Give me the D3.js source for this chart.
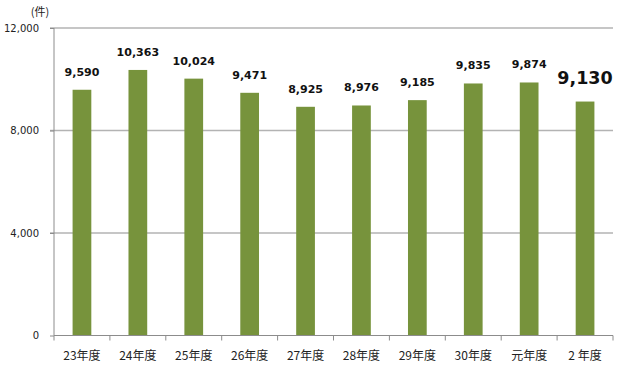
<!DOCTYPE html>
<html><head><meta charset="utf-8">
<script src="https://cdn.jsdelivr.net/npm/d3@7"></script>
<style>body{margin:0;background:#fff}svg{display:block}</style>
</head><body>
<svg id="c" width="631" height="380"></svg>
<script>
const categories = ["23年度","24年度","25年度","26年度","27年度","28年度","29年度","30年度","元年度","2 年度"];
const values = [9590,10363,10024,9471,8925,8976,9185,9835,9874,9130];
const yTicks = [0,4000,8000,12000];
const unitLabel = "(件)";

const svg = d3.select("#c");
const m = {left:54, right:613, top:28, bottom:335.5};
const x = d3.scaleBand().domain(categories).range([m.left,m.right]).paddingInner(0.665).paddingOuter(0.3325);
const y = d3.scaleLinear().domain([0,12000]).range([m.bottom,m.top]);
const fmt = d3.format(",");

// gridlines
svg.append("g").selectAll("line").data(yTicks.filter(d=>d>0)).join("line")
  .attr("x1",m.left-4).attr("x2",m.right).attr("y1",d=>y(d)).attr("y2",d=>y(d))
  .attr("stroke","#b3b3b3").attr("stroke-width",1.3);

// y axis
const ya = svg.append("g").attr("transform",`translate(${m.left},0)`)
  .call(d3.axisLeft(y).tickValues(yTicks).tickFormat(fmt).tickSize(4).tickPadding(11));
ya.select(".domain").attr("stroke","#8c8c8c").attr("d",`M0,${m.top}V${m.bottom}`);
ya.selectAll(".tick line").attr("stroke","#8c8c8c");
ya.selectAll("text").attr("font-family","'DejaVu Sans',Verdana,sans-serif").attr("font-size",10).attr("fill","#222");

// bars
svg.append("g").selectAll("rect").data(values).join("rect")
  .attr("x",(d,i)=>x(categories[i])).attr("width",x.bandwidth())
  .attr("y",d=>y(d)).attr("height",d=>y(0)-y(d)).attr("fill","#77933c");

// x axis
const xa = svg.append("g").attr("transform",`translate(0,${m.bottom})`);
xa.append("line").attr("x1",m.left).attr("x2",m.right).attr("y1",0).attr("y2",0).attr("stroke","#8c8c8c").attr("stroke-width",1.2);
const step = x.step();
const tickPos = d3.range(categories.length+1).map(i=>m.left + i*(m.right-m.left)/categories.length);
xa.selectAll("line.t").data(tickPos).join("line").attr("class","t")
  .attr("x1",d=>d).attr("x2",d=>d).attr("y1",0).attr("y2",5).attr("stroke","#8c8c8c");
xa.selectAll("text").data(categories).join("text")
  .attr("x",d=>x(d)+x.bandwidth()/2).attr("y",24.5).attr("text-anchor","middle")
  .attr("font-family","'Noto Sans CJK JP',sans-serif").attr("font-size",12).attr("fill","#222").text(d=>d);

// value labels
svg.append("g").selectAll("text").data(values).join("text")
  .attr("x",(d,i)=>x(categories[i])+x.bandwidth()/2)
  .attr("y",(d,i)=>y(d) - (i===values.length-1?18:14))
  .attr("text-anchor","middle").attr("font-family","'DejaVu Sans',Verdana,sans-serif")
  .attr("font-weight","bold").attr("font-size",(d,i)=>i===values.length-1?17.5:11)
  .attr("fill","#111").text(d=>fmt(d));

// unit
svg.append("text").attr("x",40).attr("y",15.5).attr("text-anchor","middle")
  .attr("font-family","'Noto Sans CJK JP',sans-serif").attr("font-size",11).attr("fill","#222").text(unitLabel);
</script>
</body></html>
